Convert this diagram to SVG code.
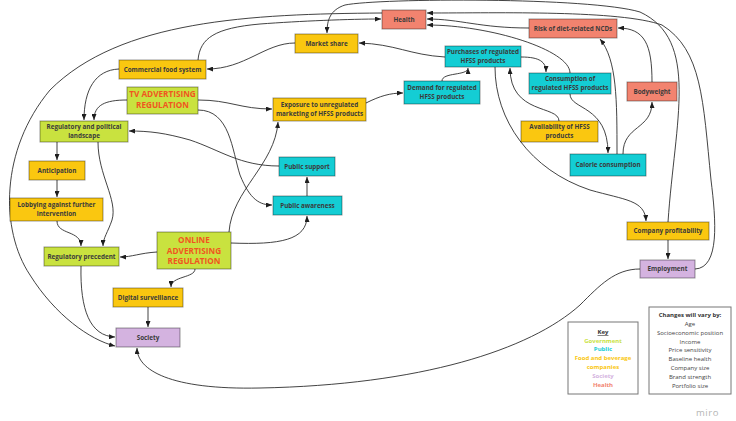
<svg xmlns="http://www.w3.org/2000/svg" width="736" height="421" viewBox="0 0 736 421">
<style>
.n rect{stroke:#000;stroke-opacity:.4;stroke-width:1}
.g rect{fill:#c9e23f}.f rect{fill:#fac710}.p rect{fill:#14cdd4}.s rect{fill:#d4b3e0}.h rect{fill:#f2836f}
.n text{font-family:"Open Sans","Liberation Sans",sans-serif;font-size:6.3px;font-weight:700;fill:#3b3b3b;text-anchor:middle}
.n text.big{font-size:8.2px;fill:#f0561f}
.c path{fill:none;stroke:#2e2e2e;stroke-width:0.9}
.k text{font-family:"Open Sans","Liberation Sans",sans-serif;font-size:6px;text-anchor:middle}
</style>
<defs>
<marker id="a" markerUnits="userSpaceOnUse" markerWidth="6" markerHeight="5" refX="6" refY="2.5" orient="auto"><path d="M0,0 L6,2.5 L0,5 z" fill="#1e1e1e"/></marker>
</defs>
<rect width="736" height="421" fill="#fff"/>
<g class="c" marker-end="url(#a)">
<path d="M382,13 C250,14 120,20 50,90 C0,150 0,230 30,275 C55,315 90,340 115,346"/>
<path d="M198,60 C200,38 215,28 260,24 C300,21 350,19 381,19"/>
<path d="M668,222 C675,120 700,40 640,12 C590,-3 380,-2 345,5 C330,10 327,20 327,33"/>
<path d="M695,269 C720,268 716,220 711,180 C703,100 702,50 662,25 C620,10 500,13 427,13"/>
<path d="M529,28 C480,28 460,19 427,19"/>
<path d="M570,73 C570,50 490,25 427,25"/>
<path d="M295,43 C265,43 245,69 207,69"/>
<path d="M445,57 C410,55 395,44 359,43"/>
<path d="M119,69 C95,70 84,90 84,120"/>
<path d="M127,100 C105,100 94,105 94,120"/>
<path d="M198,100 C230,100 240,109 272,109"/>
<path d="M198,110 C230,110 232,150 240,175 C250,200 260,205 272,205"/>
<path d="M279,166 C240,166 220,150 190,140 C165,133 150,131 129,131"/>
<path d="M229,232 C232,190 275,165 278,122"/>
<path d="M231,243 C280,245 307,240 307,216"/>
<path d="M307,196 L307,177"/>
<path d="M157,252 C140,253 132,257 120,257"/>
<path d="M195,269 C195,278 171,276 171,287"/>
<path d="M148,307 L148,327"/>
<path d="M81,266 C80,310 90,336 115,337"/>
<path d="M57,142 L57,160"/>
<path d="M57,180 L57,197"/>
<path d="M57,221 C57,235 81,230 81,246"/>
<path d="M98,142 C98,175 118,200 112,220 C108,232 103,238 103,246"/>
<path d="M640,269 C615,269 600,285 580,305 C530,350 420,385 260,388 C170,390 137,370 137,348"/>
<path d="M668,240 L668,259"/>
<path d="M495,67 C495,120 530,170 590,190 C625,200 645,200 646,221"/>
<path d="M521,57 C540,57 546,62 546,72"/>
<path d="M442,81 C442,72 468,76 468,68"/>
<path d="M366,103 C380,96 390,93 403,93"/>
<path d="M559,121 C559,105 510,115 510,68"/>
<path d="M570,94 C570,110 608,105 608,153"/>
<path d="M617,154 C617,100 617,60 600,39"/>
<path d="M623,154 C623,125 652,130 652,102"/>
<path d="M652,82 C652,45 645,28 618,28"/>
</g>
<g id="health" class="n h"><rect x="382" y="10" width="44" height="19"/><text x="404" y="21.7">Health</text></g>
<g id="market-share" class="n f"><rect x="295" y="34" width="63" height="19"/><text x="326.5" y="45.7">Market share</text></g>
<g id="purchases" class="n p"><rect x="445" y="46" width="76" height="21"/><text x="483" y="54">Purchases of regulated</text><text x="483" y="63">HFSS products</text></g>
<g id="risk" class="n h"><rect x="529" y="19" width="88" height="19"/><text x="573" y="30.7">Risk of diet-related NCDs</text></g>
<g id="consumption" class="n p"><rect x="529" y="73" width="82" height="21"/><text x="570" y="81">Consumption of</text><text x="570" y="90">regulated HFSS products</text></g>
<g id="bodyweight" class="n h"><rect x="627" y="82" width="50" height="19"/><text x="652" y="93.7">Bodyweight</text></g>
<g id="commercial" class="n f"><rect x="119" y="60" width="87" height="19"/><text x="162.5" y="71.7">Commercial food system</text></g>
<g id="tv-regulation" class="n g"><rect x="127" y="87" width="71" height="27"/><text class="big" x="162.5" y="97.3">TV ADVERTISING</text><text class="big" x="162.5" y="108.3">REGULATION</text></g>
<g id="exposure" class="n f"><rect x="273" y="98" width="93" height="23"/><text x="319.5" y="106.5">Exposure to unregulated</text><text x="319.5" y="115.5">marketing of HFSS products</text></g>
<g id="demand" class="n p"><rect x="404" y="81" width="76" height="23"/><text x="442" y="90">Demand for regulated</text><text x="442" y="99">HFSS products</text></g>
<g id="availability" class="n f"><rect x="521" y="121" width="77" height="21"/><text x="559.5" y="129">Availability of HFSS</text><text x="559.5" y="138">products</text></g>
<g id="landscape" class="n g"><rect x="40" y="121" width="88" height="21"/><text x="84" y="129">Regulatory and political</text><text x="84" y="138">landscape</text></g>
<g id="calorie" class="n p"><rect x="570" y="154" width="76" height="22"/><text x="608" y="167.2">Calorie consumption</text></g>
<g id="public-support" class="n p"><rect x="279" y="157" width="56" height="19"/><text x="307" y="168.7">Public support</text></g>
<g id="anticipation" class="n f"><rect x="29" y="161" width="56" height="19"/><text x="57" y="172.7">Anticipation</text></g>
<g id="public-awareness" class="n p"><rect x="273" y="196" width="69" height="19"/><text x="307.5" y="207.7">Public awareness</text></g>
<g id="lobbying" class="n f"><rect x="10" y="198" width="93" height="23"/><text x="56.5" y="206.5">Lobbying against further</text><text x="56.5" y="215.5">intervention</text></g>
<g id="company" class="n f"><rect x="627" y="222" width="82" height="18"/><text x="668" y="233.2">Company profitability</text></g>
<g id="online-regulation" class="n g"><rect x="157" y="232" width="74" height="37"/><text class="big" x="194" y="243">ONLINE</text><text class="big" x="194" y="253.5">ADVERTISING</text><text class="big" x="194" y="264">REGULATION</text></g>
<g id="precedent" class="n g"><rect x="44" y="247" width="75" height="19"/><text x="81.5" y="258.7">Regulatory precedent</text></g>
<g id="employment" class="n s"><rect x="640" y="260" width="55" height="18"/><text x="667.5" y="271.2">Employment</text></g>
<g id="digital" class="n f"><rect x="113" y="288" width="70" height="19"/><text x="148" y="299.7">Digital surveillance</text></g>
<g id="society" class="n s"><rect x="116" y="328" width="64" height="19"/><text x="148" y="339.7">Society</text></g>
<g id="key" class="k">
<rect x="568" y="322" width="70" height="72" fill="#fff" stroke="#777" stroke-width="1"/>
<text x="603" y="334" fill="#333" font-weight="700" text-decoration="underline">Key</text>
<text x="603" y="342.5" fill="#c9e23f" font-weight="700">Government</text>
<text x="603" y="351.3" fill="#14cdd4" font-weight="700">Public</text>
<text x="603" y="360.1" fill="#fac710" font-weight="700">Food and beverage</text>
<text x="603" y="368.9" fill="#fac710" font-weight="700">companies</text>
<text x="603" y="377.7" fill="#d4b3e0" font-weight="700">Society</text>
<text x="603" y="386.5" fill="#f2836f" font-weight="700">Health</text>
</g>
<g id="changes" class="k">
<rect x="649" y="307" width="82" height="87" fill="#fff" stroke="#777" stroke-width="1"/>
<text x="690" y="317" fill="#333" font-weight="700">Changes will vary by:</text>
<text x="690" y="326" fill="#444">Age</text>
<text x="690" y="334.8" fill="#444">Socioeconomic position</text>
<text x="690" y="343.6" fill="#444">Income</text>
<text x="690" y="352.4" fill="#444">Price sensitivity</text>
<text x="690" y="361.2" fill="#444">Baseline health</text>
<text x="690" y="370" fill="#444">Company size</text>
<text x="690" y="378.8" fill="#444">Brand strength</text>
<text x="690" y="387.6" fill="#444">Portfolio size</text>
</g>
<text x="707.5" y="416" font-family="Open Sans, Liberation Sans, sans-serif" font-size="9.5" fill="#b5b5b5" text-anchor="middle" letter-spacing="0.6">miro</text>
</svg>
